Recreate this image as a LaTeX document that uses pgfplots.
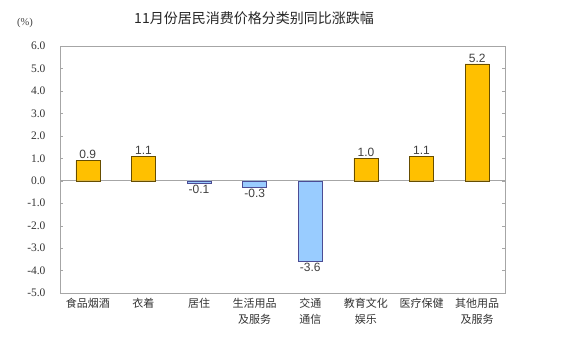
\documentclass[border=0pt]{standalone}
\usepackage{fontspec}
\setmainfont{Liberation Serif}
\newfontfamily\cjk{Noto Sans CJK SC}
\newfontfamily\lsans{Liberation Sans}
\usepackage{pgfplots}
\pgfplotsset{compat=1.18}
\definecolor{barorange}{HTML}{FFC000}
\definecolor{barblue}{HTML}{99CCFF}
\definecolor{boxgray}{HTML}{A6A6A6}
\begin{document}
\begin{tikzpicture}
\path (0,0) rectangle (564pt,-345pt);
\node[font=\cjk\fontsize{14}{16}\selectfont, text=black!85] at (254pt,-18pt) {11月份居民消费价格分类别同比涨跌幅};
\node[font=\fontsize{10.5}{12}\selectfont, text=black!75] at (25pt,-23pt) {(\%)};
\begin{axis}[
  at={(60pt,-46pt)}, anchor=north west,
  scale only axis, width=445pt, height=247pt,
  xmin=-0.5, xmax=7.5, ymin=-5, ymax=6,
  ytick={-5,-4,...,6},
  yticklabel style={font=\fontsize{11.5}{13}\selectfont, text=black!80, xshift=-11pt},
  /pgf/number format/.cd, fixed, fixed zerofill, precision=1, assume math mode=true, /pgfplots/.cd,
  xtick={0,...,7},
  xticklabels={{食品烟酒},{衣着},{居住},{生活用品\\及服务},{交通\\通信},{教育文化\\娱乐},{医疗保健},{其他用品\\及服务}},
  xticklabel style={font=\cjk\fontsize{11}{16}\selectfont, align=center, anchor=north, text=black!80, yshift=1pt},
  major x tick style={draw=none},
  y tick style={boxgray},
  tick align=inside,
  major tick length=3pt,
  axis line style={boxgray},
  extra y ticks={0},
  extra y tick labels={},
  extra y tick style={grid=major, major grid style={boxgray, line width=0.8pt}},
  ybar, bar width=24pt, bar shift=0pt,
  nodes near coords,
  every node near coord/.append style={font=\lsans\fontsize{12}{13}\selectfont, text=black!75, inner sep=1.5pt, /pgf/number format/.cd, fixed, fixed zerofill, precision=1, assume math mode=true},
]
\addplot[fill=barorange, draw=black!60!barorange] coordinates {(0,0.9) (1,1.1) (5,1.0) (6,1.1) (7,5.2)};
\addplot[fill=barblue, draw=blue!40!black!70] coordinates {(2,-0.1) (3,-0.3) (4,-3.6)};
\end{axis}
\end{tikzpicture}
\end{document}
